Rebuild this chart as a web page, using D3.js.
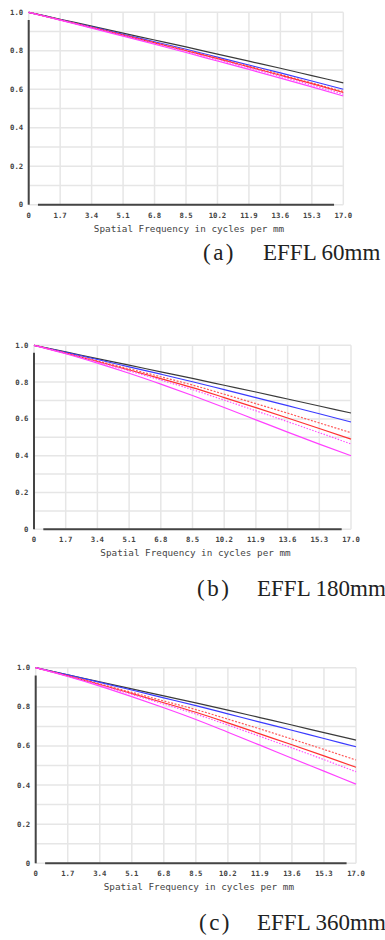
<!DOCTYPE html>
<html>
<head>
<meta charset="utf-8">
<script src="https://cdn.jsdelivr.net/npm/d3@7"></script>
<style>
  body { margin: 0; background: #fff; }
  svg { display: block; }
</style>
</head>
<body>
<div id="mtfPlot"></div>
<script>
// spatial frequency ticks (cycles per mm)
const freqs = [0, 1.7, 3.4, 5.1, 6.8, 8.5, 10.2, 11.9, 13.6, 15.3, 17.0];
const freqLabels = ["0", "1.7", "3.4", "5.1", "6.8", "8.5", "10.2", "11.9", "13.6", "15.3", "17.0"];
const mtfTicks = [0, 0.2, 0.4, 0.6, 0.8, 1.0];
const mtfLabels = ["0", "0.2", "0.4", "0.6", "0.8", "1.0"];

const seriesNames = ["diff", "tan1", "sag2", "tan2", "sag3", "tan3"];
const seriesColors = ["#3a3a3a", "#3a3aff", "#ff5a5a", "#ff3030", "#ff50ff", "#ff40ff"];
const seriesDash = [null, null, "2,1.5", null, "1.5,1.5", null];

// EFFL 60mm
const mtf60 = [
  [1, .964, .928, .892, .856, .820, .783, .746, .709, .671, .633],
  [1, .962, .924, .886, .847, .808, .767, .726, .685, .643, .600],
  [1, .961, .922, .883, .843, .803, .762, .720, .677, .633, .588],
  [1, .961, .921, .881, .841, .800, .759, .716, .673, .629, .583],
  [1, .960, .920, .879, .838, .796, .754, .711, .667, .621, .574],
  [1, .959, .918, .876, .834, .791, .747, .703, .658, .612, .565]
];
// EFFL 180mm
const mtf180 = [
  [1, .964, .928, .892, .856, .820, .783, .746, .708, .670, .632],
  [1, .962, .923, .883, .843, .802, .759, .716, .672, .628, .583],
  [1, .958, .915, .872, .829, .784, .734, .683, .631, .578, .525],
  [1, .957, .912, .866, .819, .770, .716, .661, .605, .548, .490],
  [1, .956, .909, .861, .811, .759, .702, .644, .585, .525, .464],
  [1, .954, .903, .848, .789, .727, .662, .595, .528, .463, .400]
];
// EFFL 360mm
const mtf360 = [
  [1, .964, .928, .892, .856, .820, .783, .745, .707, .668, .630],
  [1, .963, .925, .886, .846, .806, .764, .722, .680, .638, .596],
  [1, .959, .917, .874, .830, .786, .737, .687, .635, .582, .528],
  [1, .958, .914, .868, .821, .772, .718, .662, .606, .549, .491],
  [1, .957, .911, .863, .814, .763, .707, .649, .590, .530, .468],
  [1, .955, .906, .852, .795, .735, .670, .604, .537, .471, .405]
];

const panels = [
  { data: mtf60, tag: "(a)", name: "EFFL 60mm", left: 28.7, right: 343.3, top: 12.3, bottom: 204.7, capY: 260, capX: 203, nameX: 263 },
  { data: mtf180, tag: "(b)", name: "EFFL 180mm", left: 34, right: 351, top: 345.3, bottom: 529.3, capY: 596, capX: 197, nameX: 257 },
  { data: mtf360, tag: "(c)", name: "EFFL 360mm", left: 35.7, right: 356, top: 667.7, bottom: 863.3, capY: 930, capX: 199, nameX: 257 }
];

const svg = d3.select("#mtfPlot")
  .append("svg")
  .attr("width", 385)
  .attr("height", 940);

panels.forEach(p => drawPanel(p));

function drawPanel(p) {
  const x = d3.scaleLinear().domain([0, 17]).range([p.left, p.right]);
  const y = d3.scaleLinear().domain([0, 1]).range([p.bottom, p.top]);
  const g = svg.append("g");

  // grid
  g.selectAll(".vgrid")
    .data(freqs)
    .join("line")
      .attr("x1", d => x(d)).attr("x2", d => x(d))
      .attr("y1", y(0)).attr("y2", y(1))
      .style("stroke", "#e6e6e6")
      .style("stroke-width", "1.5");

  g.selectAll(".hgrid")
    .data(d3.range(0, 11).map(i => i / 10))
    .join("line")
      .attr("x1", x(0)).attr("x2", x(17))
      .attr("y1", d => y(d)).attr("y2", d => y(d))
      .style("stroke", "#e6e6e6")
      .style("stroke-width", "1.5");

  // partial dark axis lines
  g.append("line")
    .attr("x1", x(0)).attr("x2", x(0))
    .attr("y1", y(0)).attr("y2", y(0.96))
    .style("stroke", "#444")
    .style("stroke-width", "2");
  g.append("line")
    .attr("x1", x(0.5)).attr("x2", x(16.5))
    .attr("y1", y(0)).attr("y2", y(0))
    .style("stroke", "#444")
    .style("stroke-width", "2");

  // tick labels
  g.selectAll(".xlab")
    .data(freqs)
    .join("text")
      .attr("x", d => x(d))
      .attr("y", y(0) + 13)
      .attr("text-anchor", "middle")
      .style("font-family", "DejaVu Sans Mono")
      .style("font-weight", "bold")
      .style("font-size", "7.3px")
      .style("fill", "#444")
      .text((d, i) => freqLabels[i]);

  g.selectAll(".ylab")
    .data(mtfTicks)
    .join("text")
      .attr("x", x(0) - 5.5)
      .attr("y", d => y(d) + 2.5)
      .attr("text-anchor", "end")
      .style("font-family", "DejaVu Sans Mono")
      .style("font-weight", "bold")
      .style("font-size", "7.3px")
      .style("fill", "#444")
      .text((d, i) => mtfLabels[i]);

  g.append("text")
    .attr("x", (x(0) + x(17)) / 2 + 3)
    .attr("y", y(0) + 27)
    .attr("text-anchor", "middle")
    .style("font-family", "DejaVu Sans Mono")
    .style("font-size", "9.3px")
    .style("fill", "#444")
    .text("Spatial Frequency in cycles per mm");

  // curves
  const line = d3.line()
    .x((d, i) => x(freqs[i]))
    .y(d => y(d))
    .curve(d3.curveMonotoneX);

  g.selectAll(".mtf")
    .data(p.data)
    .join("path")
      .attr("d", line)
      .attr("fill", "none")
      .style("stroke", (d, i) => seriesColors[i])
      .style("stroke-width", "1.2")
      .style("stroke-dasharray", (d, i) => seriesDash[i]);

  // caption
  g.append("text")
    .attr("x", p.capX)
    .attr("y", p.capY)
    .style("font-family", "Liberation Serif")
    .style("font-size", "23px")
    .style("letter-spacing", "2.5px")
    .style("fill", "#222")
    .text(p.tag);
  g.append("text")
    .attr("x", p.nameX)
    .attr("y", p.capY)
    .style("font-family", "Liberation Serif")
    .style("font-size", "23px")
    .style("fill", "#222")
    .text(p.name);
}
</script>
</body>
</html>
